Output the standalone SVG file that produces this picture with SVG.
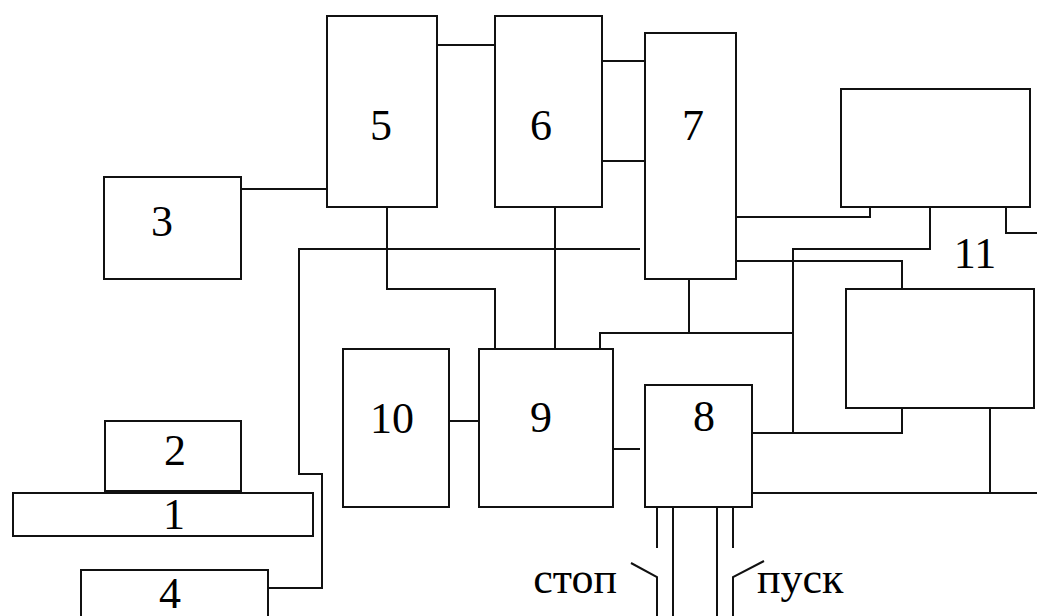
<svg xmlns="http://www.w3.org/2000/svg" width="1037" height="616" viewBox="0 0 1037 616">
<style>
.b{fill:#fff;stroke:#111;stroke-width:2}
.c{fill:none;stroke:#111;stroke-width:2}
.t{font-family:"Liberation Serif","Times New Roman",serif;font-size:44px;fill:#000;text-anchor:middle}
.s{font-family:"Liberation Serif","Times New Roman",serif;font-size:44px;fill:#000}
</style>
<rect width="1037" height="616" fill="#fff"/>
<g id="connectors" class="c">
<path d="M238 189H327"/>
<path d="M435 45H495"/>
<path d="M599 61H645M599 161H645"/>
<path d="M387 204V289H495V349"/>
<path d="M555 204V349"/>
<path d="M640 249H299V474H322V588H268"/>
<path d="M689 279V333"/>
<path d="M600 349V333H793"/>
<path d="M733 217H870V207"/>
<path d="M930 204V249H793V433"/>
<path d="M733 261H902V289"/>
<path d="M902 408V433H750"/>
<path d="M990 405V493M750 493H1037"/>
<path d="M1006 207V233H1037"/>
<path d="M449 421H479"/>
<path d="M613 449H640"/>
<path d="M657 507V548M673 507V616M717 507V616M733 507V548"/>
<path d="M631 563L657 577V616"/>
<path d="M764 561L733 577V616"/>
</g>
<g id="node1"><rect class="b" x="13" y="493" width="300" height="43"/><text class="t" x="174" y="529">1</text></g>
<g id="node2"><rect class="b" x="105" y="421" width="136" height="70"/><text class="t" x="175" y="465">2</text></g>
<g id="node3"><rect class="b" x="104" y="177" width="137" height="102"/><text class="t" x="162" y="236">3</text></g>
<g id="node4"><rect class="b" x="81" y="570" width="187" height="60"/><text class="t" x="170" y="608">4</text></g>
<g id="node5"><rect class="b" x="327" y="16" width="110" height="191"/><text class="t" x="381" y="140">5</text></g>
<g id="node6"><rect class="b" x="495" y="16" width="107" height="191"/><text class="t" x="541" y="140">6</text></g>
<g id="node7"><rect class="b" x="645" y="33" width="91" height="246"/><text class="t" x="693" y="140">7</text></g>
<g id="node8"><rect class="b" x="645" y="385" width="107" height="122"/><text class="t" x="704" y="431">8</text></g>
<g id="node9"><rect class="b" x="479" y="349" width="134" height="158"/><text class="t" x="541" y="432">9</text></g>
<g id="node10"><rect class="b" x="343" y="349" width="106" height="158"/><text class="t" x="392" y="433">10</text></g>
<g id="node11">
<rect class="b" x="841" y="89" width="189" height="118"/>
<rect class="b" x="846" y="289" width="188" height="119"/>
<text class="t" x="975" y="268">11</text>
</g>
<g id="labels">
<text class="s" x="617" y="593" text-anchor="end">стоп</text>
<text class="s" x="757" y="593">пуск</text>
</g>
</svg>
